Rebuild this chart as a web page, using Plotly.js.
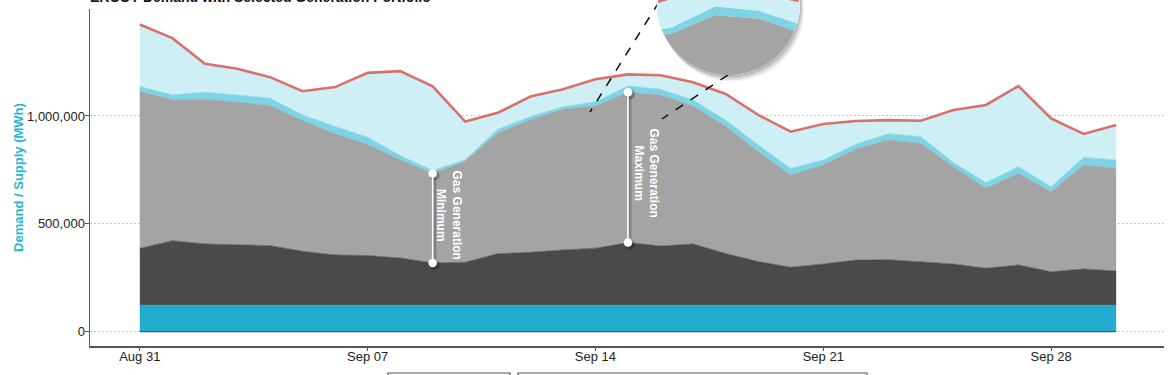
<!DOCTYPE html>
<html><head><meta charset="utf-8">
<script src="https://cdn.plot.ly/plotly-3.0.1.min.js"></script>
<style>html,body{margin:0;padding:0;background:#fff}#chart{width:1175px;height:375px}</style>
</head><body><div id="chart"></div>
<script>
// ---------------- data ----------------
const dates = ['2020-08-31','2020-09-01','2020-09-02','2020-09-03','2020-09-04','2020-09-05','2020-09-06',
  '2020-09-07','2020-09-08','2020-09-09','2020-09-10','2020-09-11','2020-09-12','2020-09-13','2020-09-14',
  '2020-09-15','2020-09-16','2020-09-17','2020-09-18','2020-09-19','2020-09-20','2020-09-21','2020-09-22',
  '2020-09-23','2020-09-24','2020-09-25','2020-09-26','2020-09-27','2020-09-28','2020-09-29','2020-09-30'];
const nuclear = [123000,123000,123000,123000,123000,123000,123000,123000,123000,123000,123000,123000,123000,123000,123000,
  123000,123000,123000,123000,123000,123000,123000,123000,123000,123000,123000,123000,123000,123000,123000,123000];
const coal = [263000,299000,284000,279000,276000,250000,233000,230000,219000,196000,199000,239000,245000,256000,264000,
  290000,274000,284000,240000,202000,176000,191000,209000,211000,202000,191000,171000,186000,155000,168000,158000];
const gas = [728000,654000,671000,662000,650000,606000,561000,515000,455000,414000,468000,560000,613000,652000,659000,
  697000,700000,639000,591000,509000,427000,459000,514000,555000,548000,451000,371000,425000,371000,482000,476000];
const solar = [23000,22000,32000,34000,34000,26000,34000,34000,20000,14000,7000,17000,16000,12000,20000,
  29000,27000,28000,27000,32000,31000,23000,23000,29000,31000,19000,26000,31000,23000,35000,39000];
const wind = [287000,263000,132000,121000,97000,110000,183000,298000,391000,390000,177000,76000,93000,81000,104000,
  54000,65000,82000,121000,139000,170000,167000,108000,63000,74000,244000,360000,374000,317000,109000,162000];
const demand = [1424000,1361000,1242000,1219000,1180000,1115000,1134000,1200000,1208000,1137000,974000,1015000,1090000,1124000,1170000,
  1193000,1189000,1156000,1102000,1005000,927000,963000,977000,981000,978000,1028000,1051000,1139000,989000,917000,958000];
const seriesNames = ['Nuclear','Coal','Natural Gas','Solar','Wind'];
const xTickVals = ['2020-08-31','2020-09-07','2020-09-14','2020-09-21','2020-09-28'];
const xTickText = ['Aug 31','Sep 07','Sep 14','Sep 21','Sep 28'];
const yTickVals = [0,500000,1000000];
const yTickText = ['0','500,000','1,000,000'];
const noteDates = ['2020-09-09','2020-09-15'];
const noteLabels = ['Gas Generation<br>Minimum','Gas Generation<br>Maximum'];
const titleText = 'ERCOT Demand with Selected Generation Portfolio';
const yTitleText = 'Demand / Supply (MWh)';

// ---------------- style / geometry ----------------
const colors = ['#23acce','#4a4a4d','#a4a4a4','#7dd4e4','#cdeff5'];
const demandColor = '#d8706e';
const FONT = 'Liberation Sans, Arial, Helvetica, sans-serif';
const L = 90, R = 11, T = 9, B = 29, FW = 1175, FH = 375;
const W = FW - L - R, H = FH - T - B;
const DAY = 86400000;
function ms(s){const p=s.split('-');return Date.UTC(+p[0],+p[1]-1,+p[2]);}
function iso(t){return new Date(t).toISOString().slice(0,19).replace('T',' ');}
const t0 = ms(dates[0]);
const xr = [t0 - 1.53*DAY, t0 + 31.47*DAY];
const yr = [-66300, 1496000];
function px(t){return L + (t - xr[0])/(xr[1]-xr[0])*W;}
function py(v){return T + (yr[1]-v)/(yr[1]-yr[0])*H;}
function paper(p){return [(p[0]-L)/W, (T+H-p[1])/H];}
const pxPerDay = W/((xr[1]-xr[0])/DAY);
const valPerPx = (yr[1]-yr[0])/H;

// cumulative boundaries
const b1 = dates.map((d,i)=>nuclear[i]+coal[i]);
const b2 = dates.map((d,i)=>b1[i]+gas[i]);
const b3 = dates.map((d,i)=>b2[i]+solar[i]);

// ---------------- traces ----------------
const traces = [];
[nuclear,coal,gas,solar,wind].forEach((s,k)=>{
  traces.push({x:dates, y:s, name:seriesNames[k], type:'scatter', mode:'lines', stackgroup:'one',
    line:{width:0.6,color:colors[k]}, fillcolor:colors[k], hoverinfo:'skip'});
});
traces.push({x:dates, y:dates.map(()=>0), type:'scatter', mode:'lines', line:{color:'#2b6475', width:1.2}, hoverinfo:'skip', showlegend:false});
traces.push({x:dates, y:demand, name:'Demand', type:'scatter', mode:'lines', line:{color:demandColor,width:2.6}, hoverinfo:'skip'});

const annotations = [];
noteDates.forEach((d,k)=>{
  const i = dates.indexOf(d);
  const lo = b1[i], hi = b2[i];
  const sx = iso(ms(d) + 2*DAY/pxPerDay);
  traces.push({x:[sx,sx], y:[lo-2*valPerPx, hi-2*valPerPx], type:'scatter', mode:'lines+markers',
    line:{color:'rgba(0,0,0,0.22)',width:3}, marker:{size:10,color:'rgba(0,0,0,0.25)'}, hoverinfo:'skip', showlegend:false});
  traces.push({x:[d,d], y:[lo,hi], type:'scatter', mode:'lines+markers',
    line:{color:'#ffffff',width:1.6}, marker:{size:8.5,color:'#ffffff'}, hoverinfo:'skip', showlegend:false});
  annotations.push({x:d, y:(lo+hi)/2, xref:'x', yref:'y', text:'<b>'+noteLabels[k].replace('<br>','</b><br><b>')+'</b>',
    showarrow:false, textangle:90, xshift:[16,18][k], yshift:[3,-6][k],
    font:{family:FONT,size:12,color:'#ffffff'}});
});

annotations.push({x:-0.002, y:(T+H+2.6)/H, xref:'paper', yref:'paper', xanchor:'left', yanchor:'middle',
  text:'<b>'+titleText+'</b>', showarrow:false, font:{family:FONT,size:14,color:'#111'}});

// ---------------- magnifier (built from the data) ----------------
const lens = {cx:728.4, cy:3.4, r:71.6, zoom:1.35};
const lensSrc = {date:'2020-09-15', dayOffset:0.3, value:1150000};
const sX = px(ms(lensSrc.date) + lensSrc.dayOffset*DAY), sY = py(lensSrc.value);
function mag(p){return [lens.cx + lens.zoom*(p[0]-sX), lens.cy + lens.zoom*(p[1]-sY)];}
const circ = [];
for(let a=0;a<128;a++){const th=a/128*2*Math.PI; circ.push([lens.cx+lens.r*Math.cos(th), lens.cy+lens.r*Math.sin(th)]);}
function cross(A,B,P){return (B[0]-A[0])*(P[1]-A[1])-(B[1]-A[1])*(P[0]-A[0]);}
function clipPoly(subj, clip){
  let out = subj;
  for(let i=0;i<clip.length;i++){
    const A=clip[i], Bp=clip[(i+1)%clip.length];
    const inp=out; out=[]; if(!inp.length) break;
    for(let j=0;j<inp.length;j++){
      const P=inp[(j+inp.length-1)%inp.length], Q=inp[j];
      const dp=cross(A,Bp,P), dq=cross(A,Bp,Q);
      const inter=()=>{const t=dp/(dp-dq);return [P[0]+t*(Q[0]-P[0]),P[1]+t*(Q[1]-P[1])];};
      if(dq>=0){ if(dp<0) out.push(inter()); out.push(Q);} else if(dp>=0) out.push(inter());
    }
  }
  return out;
}
function pathOf(pts,close){return pts.map((p,k)=>{const q=paper(p);return (k?'L':'M')+q[0].toFixed(5)+','+q[1].toFixed(5);}).join('')+(close?'Z':'');}
const idxs = []; for(let i=9;i<=22;i++) idxs.push(i);
function curve(arr){return idxs.map(i=>mag([px(ms(dates[i])), py(arr[i])]));}
const cTop = curve(demand), c3 = curve(b3), c2 = curve(b2);
function band(upper, lower){return upper.concat(lower.slice().reverse());}
const lowFar = c2.map(p=>[p[0], p[1]+400]);
const shapes = [];
const dashes = [[[659,2],[590,112]],[[728,75],[662,119]]];
dashes.forEach(s=>{const a=paper(s[0]), b=paper(s[1]);
  shapes.push({type:'line', xref:'paper', yref:'paper', x0:a[0], y0:a[1], x1:b[0], y1:b[1], line:{color:'#111',width:1.5,dash:'dash'}});});
// shadow rings
[[1,2,0.10],[2,3.5,0.09],[3,5,0.07],[4,6.5,0.05]].forEach(o=>{
  const off = circ.map(p=>[p[0]+o[0], p[1]+o[1]]);
  shapes.push({type:'path', xref:'paper', yref:'paper', path:pathOf(off,true)+pathOf(circ,true), fillrule:'evenodd',
    fillcolor:'rgba(0,0,0,'+o[2]+')', line:{width:0}});
});
shapes.push({type:'path', xref:'paper', yref:'paper', path:pathOf(circ,true), fillcolor:'#ffffff', line:{width:0}});
[[band(cTop,c3),colors[4]],[band(c3,c2),colors[3]],[band(c2,lowFar),colors[2]]].forEach(b=>{
  const cp = clipPoly(b[0], circ);
  if(cp.length>2) shapes.push({type:'path', xref:'paper', yref:'paper', path:pathOf(cp,true), fillcolor:b[1], line:{width:0}});
});
// demand line inside lens
let dpath='', run=false;
for(let k=0;k<cTop.length-1;k++){
  for(let s=0;s<=30;s++){
    const P=[cTop[k][0]+(cTop[k+1][0]-cTop[k][0])*s/30, cTop[k][1]+(cTop[k+1][1]-cTop[k][1])*s/30];
    const inside = Math.hypot(P[0]-lens.cx,P[1]-lens.cy) <= lens.r-1;
    if(inside){const q=paper(P); dpath += (run?'L':'M')+q[0].toFixed(5)+','+q[1].toFixed(5); run=true;} else run=false;
  }
}
if(dpath) shapes.push({type:'path', xref:'paper', yref:'paper', path:dpath, line:{color:demandColor,width:3}});

// bottom boxes (cut off at the bottom edge)
[[388,510],[518,867]].forEach(bx=>{
  const a=paper([bx[0],373]), b=paper([bx[1],400]);
  shapes.push({type:'rect', xref:'paper', yref:'paper', x0:a[0], x1:b[0], y0:a[1], y1:b[1], line:{color:'#555',width:1.2}, fillcolor:'rgba(0,0,0,0)'});
});

const layout = {
  width:FW, height:FH, margin:{l:L, r:R, t:T, b:B, pad:0},
  paper_bgcolor:'#ffffff', plot_bgcolor:'#ffffff', showlegend:false, hovermode:false,
  font:{family:FONT, size:13, color:'#333'},
  xaxis:{type:'date', range:[iso(xr[0]), iso(xr[1])], tickvals:xTickVals, ticktext:xTickText,
    showgrid:false, zeroline:false, showline:true, linecolor:'#555', linewidth:1.5,
    ticks:'outside', ticklen:3, tickcolor:'#555', tickwidth:1, ticklabelstandoff:-5,
    tickfont:{family:FONT,size:13,color:'#222'}},
  yaxis:{range:yr, tickvals:yTickVals, ticktext:yTickText, showgrid:true, gridcolor:'#c8c8c8', griddash:'1.5px,2.5px', gridwidth:1,
    zeroline:false, showline:true, linecolor:'#555', linewidth:1.5, ticks:'outside', ticklen:4, tickcolor:'#555',
    ticklabelstandoff:-3, tickfont:{family:FONT,size:13,color:'#222'},
    title:{text:'<b>'+yTitleText+'</b>', standoff:0, font:{family:FONT,size:13,color:'#2bb5d1'}}},
  annotations:annotations, shapes:shapes
};
Plotly.newPlot('chart', traces, layout, {displayModeBar:false, staticPlot:true});
</script></body></html>
